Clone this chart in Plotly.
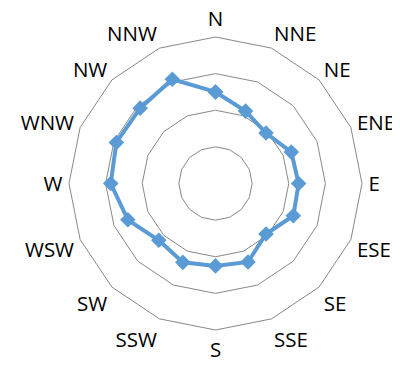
import plotly.graph_objects as go

directions = ["N", "NNE", "NE", "ENE", "E", "ESE", "SE", "SSE",
              "S", "SSW", "SW", "WSW", "W", "WNW", "NW", "NNW"]
values = [2.50, 2.14, 1.95, 2.24, 2.27, 2.30, 1.95, 2.32,
          2.25, 2.33, 2.19, 2.59, 2.86, 2.93, 2.91, 3.08]

# close the loop
r = values + values[:1]
theta = directions + directions[:1]

fig = go.Figure()
fig.add_trace(go.Scatterpolar(
    r=r, theta=theta, mode="lines+markers",
    line=dict(color="#5B9BD5", width=4),
    marker=dict(symbol="diamond", size=12, color="#5B9BD5"),
    showlegend=False,
))

# page body has an 8px margin, so the plot is shifted up/left by that much
fig.update_layout(
    width=400, height=370,
    margin=dict(l=61, r=46, t=29, b=48),
    paper_bgcolor="white",
    font=dict(family="Open Sans", size=20.5, color="#000000"),
    polar=dict(
        bgcolor="white",
        gridshape="linear",
        radialaxis=dict(range=[0, 4], tickvals=[1, 2, 3, 4], showticklabels=False,
                        ticks="", showline=False, gridcolor="#888888", gridwidth=1),
        angularaxis=dict(direction="clockwise", rotation=90, categoryarray=directions,
                         categoryorder="array", showgrid=False,
                         ticks="outside", ticklen=2, tickcolor="rgba(0,0,0,0)",
                         linecolor="#888888", linewidth=1),
    ),
)

fig.write_html("out.html")
